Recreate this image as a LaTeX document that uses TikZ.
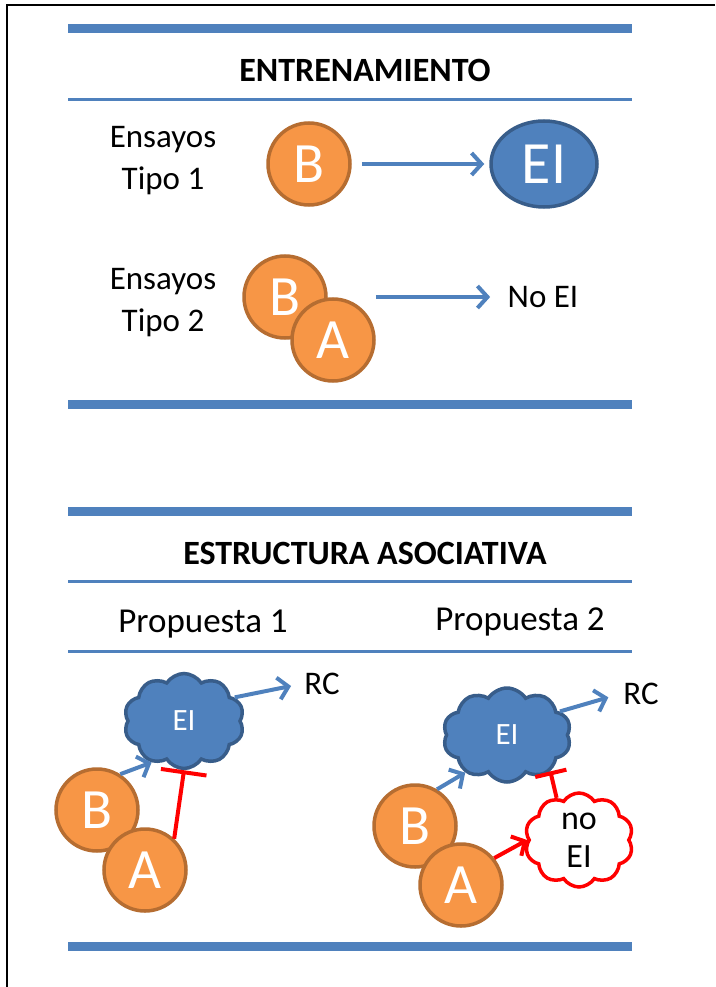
\documentclass[tikz,border=0pt]{standalone}
\usepackage{fontspec}
\setmainfont{Carlito}
\usetikzlibrary{shapes.geometric,shapes.symbols,arrows.meta}
\definecolor{azul}{HTML}{4F81BD}
\definecolor{azulosc}{HTML}{385D8A}
\definecolor{naranja}{HTML}{F79646}
\definecolor{naranjaosc}{HTML}{B66D31}
\definecolor{rojo}{HTML}{FF0000}
\begin{document}
\begin{tikzpicture}[x=1pt,y=-1pt,>={Straight Barb[length=10pt,width=22pt]}]
    \tikzstyle{estimulo}=[circle,line width=3.5pt,draw=naranjaosc,fill=naranja,minimum size=82pt,inner sep=0pt,text=white,font=\fontsize{57}{57}\selectfont]
    \tikzstyle{nube}=[cloud,cloud puffs=10,cloud puff arc=115,aspect=1.3,line width=3.5pt,inner sep=0pt]
    \tikzstyle{texto}=[font=\fontsize{33}{42}\selectfont,align=center]
    \tikzstyle{titulo}=[font=\bfseries\fontsize{34}{40}\selectfont]
    \tikzstyle{barra}=[draw=azul,line width=9pt]
    \tikzstyle{linea}=[draw=azul,line width=3pt]
    \tikzstyle{edge}=[draw=azul,line width=4pt,->]
    \tikzstyle{inhibe}=[draw=rojo,line width=4pt,-{Bar[width=46pt,line width=4pt]}]
    \useasboundingbox (0,0) rectangle (715,987);
    % marco
    \draw[line width=2pt] (7,987) -- (7,5) -- (715,5);
    % separadores
    \draw[barra] (68,28.5) -- (632,28.5);
    \draw[linea] (68,99.5) -- (632,99.5);
    \draw[barra] (68,404.5) -- (632,404.5);
    \draw[barra] (68,511) -- (632,511);
    \draw[linea] (68,581) -- (632,581);
    \draw[linea] (68,651) -- (632,651);
    \draw[barra] (68,946) -- (632,946);
    % entrenamiento
    \begin{scope}
        \node [titulo] (ent) at (365,70) {ENTRENAMIENTO};
        \node [texto] (tipo1) at (163,161) {Ensayos\\Tipo 1};
        \node [estimulo] (b1) at (309,164) {B};
        \node [ellipse,line width=3.5pt,draw=azulosc,fill=azul,minimum width=106pt,minimum height=86pt,text=white,font=\fontsize{60}{60}\selectfont] (ei) at (544,164) {EI};
        \draw[edge,shorten <=10pt,shorten >=5pt] (b1) -- (ei);
        \node [texto] (tipo2) at (163,303) {Ensayos\\Tipo 2};
        \node [estimulo] (b2) at (285,297) {B};
        \node [estimulo] (a2) at (333,340) {A};
        \node [texto] (noei) at (543,297) {No EI};
        \draw[edge,shorten >=14pt] (b2.east -| a2.east) -- (noei.west);
    \end{scope}
    % estructura asociativa
    \begin{scope}
        \node [titulo] (est) at (365,553) {ESTRUCTURA ASOCIATIVA};
        \node [texto,font=\fontsize{35}{42}\selectfont] (prop1) at (203,624) {Propuesta 1};
        \node [texto,font=\fontsize{35}{42}\selectfont] (prop2) at (520,622) {Propuesta 2};
        % propuesta 1
        \node [nube,draw=azulosc,fill=azul,minimum width=120pt,minimum height=95pt,text=white,font=\fontsize{31}{31}\selectfont] (nube1) at (184,721) {EI};
        \node [texto] (rc1) at (322,684) {RC};
        \node [estimulo] (b3) at (97,810) {B};
        \node [estimulo] (a3) at (145,870) {A};
        \draw[edge,shorten >=10pt] (nube1.25) -- (rc1.west);
        \draw[edge] (b3.57) -- (nube1.232);
        \draw[inhibe] (a3.47) -- (nube1.south);
        % propuesta 2
        \node [nube,draw=azulosc,fill=azul,minimum width=128pt,minimum height=94pt,text=white,font=\fontsize{31}{31}\selectfont] (nube2) at (507,735) {EI};
        \node [texto] (rc2) at (641,694) {RC};
        \node [estimulo] (b4) at (415,826) {B};
        \node [estimulo] (a4) at (461,885) {A};
        \node [nube,draw=rojo,fill=white,minimum width=106pt,minimum height=94pt,font=\fontsize{34}{38}\selectfont,align=center] (nonube) at (579,840) {no\\EI};
        \draw[edge,shorten >=12pt] (nube2.24) -- (rc2.west);
        \draw[edge] (b4.59) -- (nube2.222);
        \draw[edge,draw=rojo] (a4.39) -- (nonube.west);
        \draw[inhibe,-{Bar[width=32pt,line width=4pt]}] (nonube.118) -- (nube2.-40);
    \end{scope}
\end{tikzpicture}
\end{document}
